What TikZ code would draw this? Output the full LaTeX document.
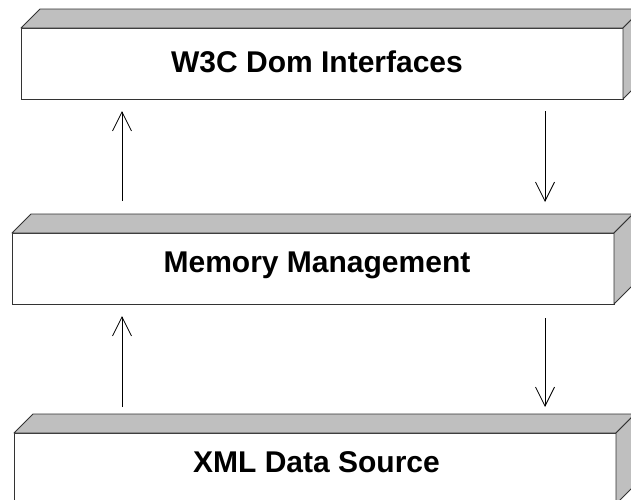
\documentclass[tikz,border=0pt]{standalone}
\usepackage{fontspec}
\setmainfont{Liberation Sans}
\usetikzlibrary{arrows.meta}

\tikzset{
  slab/.style={draw=black!80, fill=white, line width=0.9pt, minimum width=602pt,
    minimum height=71pt, inner sep=0pt, outer sep=0pt},
  sideface/.style={draw=black!80, fill=black!25, line width=0.9pt, line join=round},
  lbl/.style={font=\fontsize{30}{35}\selectfont\bfseries, inner sep=0pt},
  flow/.style={line width=0.8pt, -{Straight Barb[length=19pt,width=19pt]}}
}

\begin{document}
\begin{tikzpicture}[x=1pt,y=-1pt]

            \useasboundingbox (0,0) rectangle (631,499);
            \clip (0,0) rectangle (631,499);

            % front faces
            \node[slab] (dom) at (322,63.5) {};
            \node[slab] (mem) at (313,268.5) {};
            \node[slab] (xml) at (315,468.5) {};

            % top and side faces
            \foreach \b in {dom,mem,xml} {
              \draw[sideface] (\b.north west) -- ++(19,-19)
                -- ([shift={(19,-19)}]\b.north east) -- (\b.north east) -- cycle;
              \draw[sideface] (\b.north east) -- ++(19,-19)
                -- ([shift={(19,-19)}]\b.south east) -- (\b.south east) -- cycle;
            }

            % labels
            \node[lbl, anchor=base] (domtxt) at (317,72) {W3C Dom Interfaces};
            \node[lbl, anchor=base] (memtxt) at (317,272) {Memory Management};
            \node[lbl, anchor=base] (xmltxt) at (316.5,472) {XML Data Source};

            % data flow
            \coordinate (lft) at (122,0);
            \coordinate (rgt) at (545,0);

            \draw[flow, shorten <=32pt, shorten >=12pt] (mem.north -| lft) -- (dom.south -| lft);
            \draw[flow, shorten <=12pt, shorten >=31pt] (dom.south -| rgt) -- (mem.north -| rgt);

            \draw[flow, shorten <=26pt, shorten >=12pt] (xml.north -| lft) -- (mem.south -| lft);
            \draw[flow, shorten <=14pt, shorten >=26pt] (mem.south -| rgt) -- (xml.north -| rgt);

        \end{tikzpicture}
\end{document}
